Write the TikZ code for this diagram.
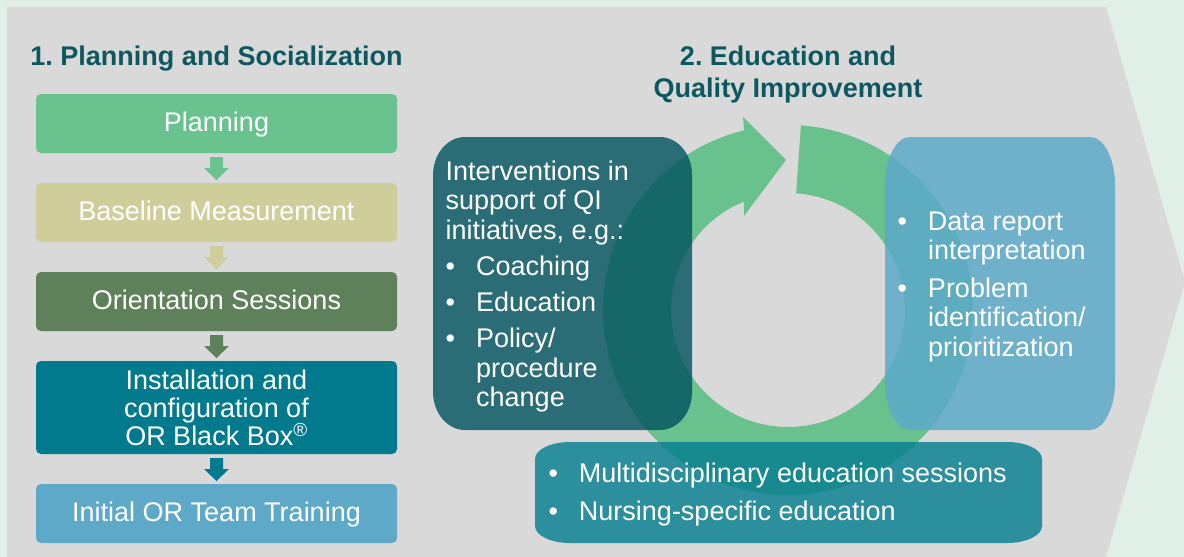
\documentclass[tikz,border=0pt]{standalone}
\usepackage{fontspec}
\setmainfont{Liberation Sans}
\usetikzlibrary{calc}

\definecolor{mint}{HTML}{E0F0E6}
\definecolor{panel}{HTML}{D9D9D9}
\definecolor{headc}{HTML}{0D5860}
\definecolor{stepA}{HTML}{6AC28F}
\definecolor{stepB}{HTML}{CFCE9B}
\definecolor{stepC}{HTML}{5E815B}
\definecolor{stepD}{HTML}{007A8C}
\definecolor{stepE}{HTML}{5EA8C8}
\definecolor{ringc}{HTML}{69C18E}
\definecolor{intervc}{RGB}{0,82,94}
\definecolor{datac}{RGB}{93,169,200}
\definecolor{educc}{RGB}{5,127,145}

% bullet and hanging indent for the lists
\newcommand{\qimark}{\makebox[30.5pt][l]{\textbullet}}
\newcommand{\qiindent}{\hspace*{30.5pt}}

% box with elliptic corners: x0 y0 x1 y1 rx ry style
\newcommand{\softbox}[7]{%
  \fill[#7] (#1+#5,#2) -- (#3-#5,#2)
    arc[start angle=270,end angle=360,x radius=#5,y radius=#6]
    -- (#3,#4-#6)
    arc[start angle=0,end angle=90,x radius=#5,y radius=#6]
    -- (#1+#5,#4)
    arc[start angle=90,end angle=180,x radius=#5,y radius=#6]
    -- (#1,#2+#6)
    arc[start angle=180,end angle=270,x radius=#5,y radius=#6] -- cycle;}

\tikzset{pics/dropdown/.style={code={
  \fill[#1] (-6.5,-11) -- (6.5,-11) -- (6.5,0) -- (12.5,0) -- (0,12)
    -- (-12.5,0) -- (-6.5,0) -- cycle;}}}

\begin{document}
\frenchspacing
\begin{tikzpicture}[x=1pt,y=-1pt,
  stage/.style={rectangle,rounded corners=5pt,minimum width=361pt,minimum height=59pt,
    inner sep=0pt,text=white,align=center,font=\fontsize{27}{28}\selectfont},
  oneline/.style={text height=20pt,text depth=3.6pt},
  heading/.style={font=\bfseries\fontsize{27}{32}\selectfont,text=headc,align=center,inner sep=0pt},
  listtext/.style={anchor=north west,inner sep=0pt,text=white,align=left,
    font=\fontsize{27}{29.5}\selectfont}]

  \useasboundingbox (0,0) rectangle (1184,557);
  \fill[mint] (0,0) rectangle (1184,557);
  \fill[panel] (7,7) -- (1106,7) -- (1185,282) -- (1106,557) -- (7,557) -- cycle;

  \node[heading,anchor=base] (phase1) at (216.5,65) {1. Planning and Socialization};
  \node[heading,anchor=north] (phase2) at (788,45.5) {2. Education and\\Quality Improvement};

  % phase 1
  \node[stage,oneline,fill=stepA] (plan) at (216.5,123.5) {Planning};
  \node[stage,oneline,fill=stepB] (base) at (216.5,212.5) {Baseline Measurement};
  \node[stage,oneline,fill=stepC] (orient) at (216.5,301.5) {Orientation Sessions};
  \node[stage,fill=stepD,minimum height=93pt] (install) at (216.5,407.5)
    {Installation and\\configuration of\\OR Black Box\textsuperscript{®}};
  \node[stage,oneline,fill=stepE] (train) at (216.5,513.5) {Initial OR Team Training};

  \pic (a1) at ($(plan.south)!0.5!(base.north)$) {dropdown=stepA};
  \pic (a2) at ($(base.south)!0.5!(orient.north)$) {dropdown=stepB};
  \pic (a3) at ($(orient.south)!0.5!(install.north)$) {dropdown=stepC};
  \pic (a4) at ($(install.south)!0.5!(train.north)$) {dropdown=stepD};

  % phase 2
  \coordinate (hub) at (788,310);
  \fill[ringc] ($(hub)+(-103.7:185)$) arc[start angle=-103.7,end angle=-446,radius=185]
    -- ($(hub)+(-446:117)$) arc[start angle=-446,end angle=-112.1,radius=117]
    -- (744,216) -- (786,160) -- (743,117) -- cycle;

  \softbox{433}{137}{692}{430}{32}{38}{intervc,fill opacity=0.8}
  \softbox{885}{137}{1115}{430}{25}{48}{datac,fill opacity=0.85}
  \softbox{535}{442}{1042}{543}{35}{17}{educc,fill opacity=0.82}

  \node[listtext] (interv) at (445.5,160.5) {Interventions in\\support of QI\\initiatives, e.g.:\\[7pt]
    \qimark Coaching\\[6.5pt]\qimark Education\\[6.5pt]\qimark Policy/\\\qiindent procedure\\\qiindent change};
  \node[listtext,font=\fontsize{27}{29.2}\selectfont] (datarep) at (897.3,211.5)
    {\qimark Data report\\\qiindent interpretation\\[9pt]\qimark Problem\\\qiindent identification/\\\qiindent prioritization};
  \node[listtext,font=\fontsize{27}{29}\selectfont] (educ) at (548.3,463)
    {\qimark Multidisciplinary education sessions\\[8.5pt]\qimark Nursing-specific education};
\end{tikzpicture}
\end{document}
